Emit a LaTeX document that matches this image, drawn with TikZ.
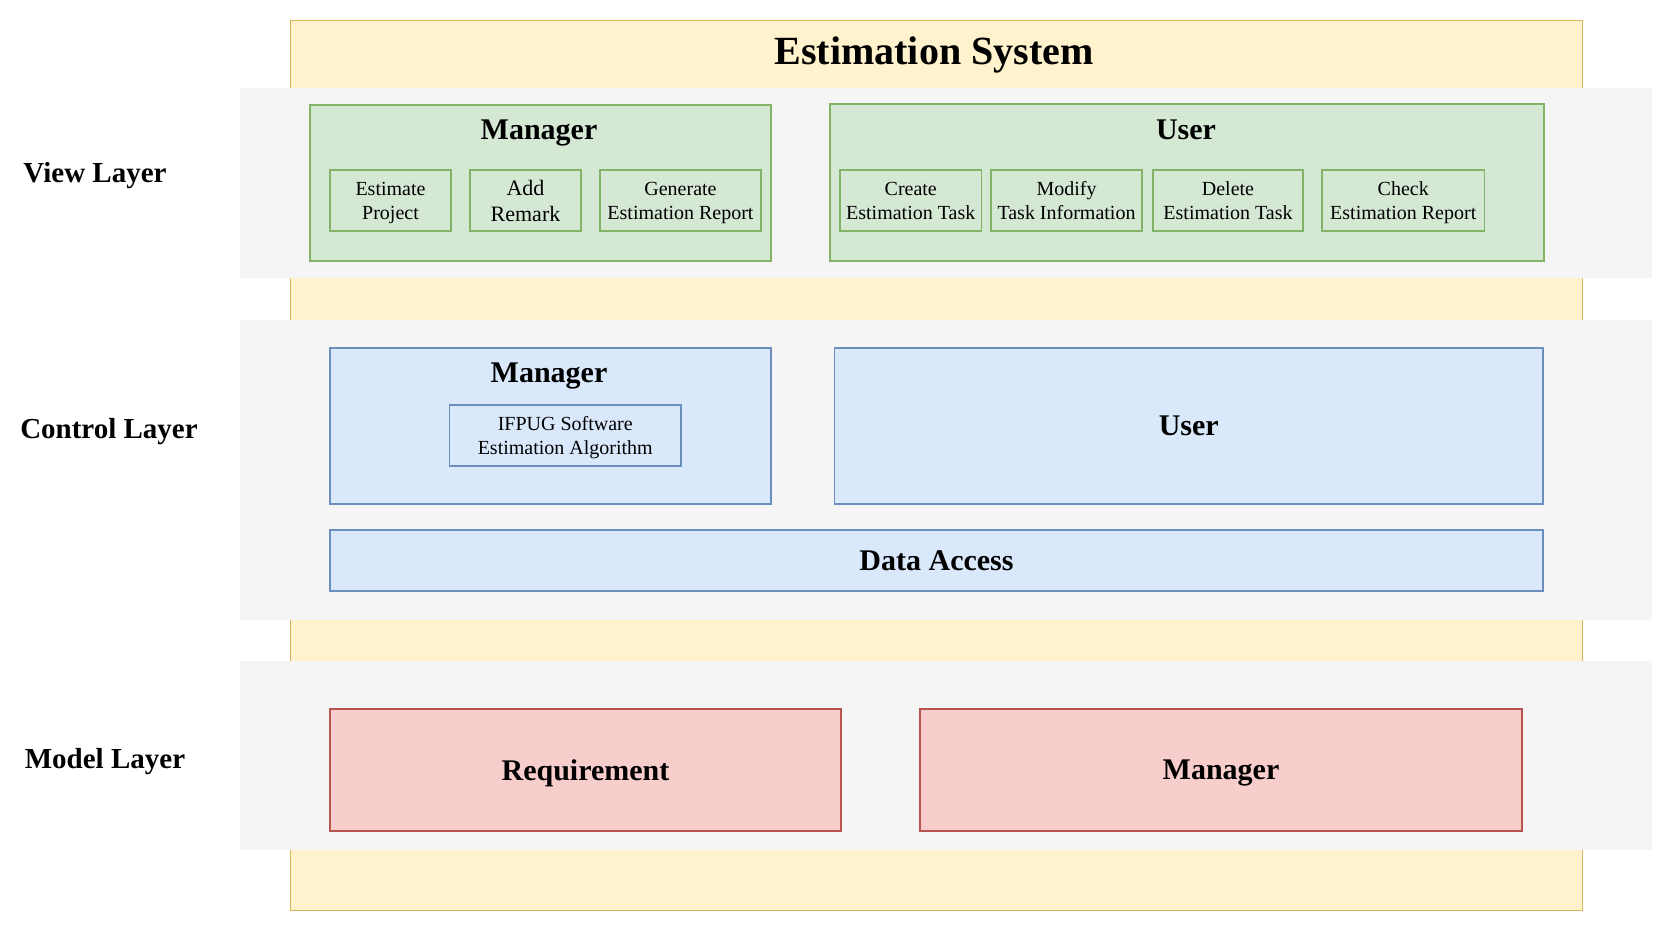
\documentclass[tikz,border=0pt]{standalone}
\usepackage{fontspec}
\setmainfont{Liberation Serif}

\definecolor{sysfill}{HTML}{FFF2CC}
\definecolor{sysline}{HTML}{D6B656}
\definecolor{bandgray}{HTML}{F5F5F5}
\definecolor{viewfill}{HTML}{D5E8D4}
\definecolor{viewline}{HTML}{82B366}
\definecolor{ctrlfill}{HTML}{DAE8FC}
\definecolor{ctrlline}{HTML}{6C8EBF}
\definecolor{modelfill}{HTML}{F8CECC}
\definecolor{modelline}{HTML}{B85450}

\tikzset{
  every node/.style={text depth=0pt},
  viewbox/.style={fill=viewfill, draw=viewline, line width=1.5pt, inner sep=0pt},
  ctrlbox/.style={fill=ctrlfill, draw=ctrlline, line width=1.5pt, inner sep=0pt},
  modelbox/.style={fill=modelfill, draw=modelline, line width=1.5pt, inner sep=0pt},
  itemtext/.style={align=center, font=\fontsize{20}{24}\selectfont},
  boxtitle/.style={font=\bfseries\fontsize{30}{36}\selectfont},
  layerlabel/.style={font=\bfseries\fontsize{29}{35}\selectfont}
}

\begin{document}
\begin{tikzpicture}[x=1pt, y=-1pt]

  \useasboundingbox (0,0) rectangle (1671,932);

  % System frame
  \draw[fill=sysfill, draw=sysline, line width=1pt] (290,20) rectangle (1582,910);
  \node[font=\bfseries\fontsize{40}{48}\selectfont] (systitle) at (934,51) {Estimation System};

  % Layer bands
  \fill[bandgray] (240,88) rectangle (1652,278);
  \fill[bandgray] (240,320) rectangle (1652,620);
  \fill[bandgray] (240,661) rectangle (1652,850);

  % Layer labels
  \node[layerlabel] (viewlabel) at (95,172) {View Layer};
  \node[layerlabel] (ctrllabel) at (109,428) {Control Layer};
  \node[layerlabel] (modellabel) at (105,758) {Model Layer};

  % View layer
  \node[viewbox, minimum width=461, minimum height=156] (vmanager) at (540.5,183) {};
  \node[boxtitle] (vmanagertitle) at (539,130) {Manager};
  \node[viewbox, itemtext, minimum width=121, minimum height=61] (estimate) at (390.5,200.5) {Estimate\\Project};
  \node[viewbox, align=center, font=\fontsize{22}{26}\selectfont, minimum width=111, minimum height=61] (remark) at (525.5,200.5) {Add\\Remark};
  \node[viewbox, itemtext, minimum width=161, minimum height=61] (genreport) at (680.5,200.5) {Generate\\Estimation Report};

  \node[viewbox, minimum width=714, minimum height=157] (vuser) at (1187,182.5) {};
  \node[boxtitle] (vusertitle) at (1186,130) {User};
  \node[viewbox, itemtext, minimum width=141.5, minimum height=61] (create) at (910.75,200.5) {Create\\Estimation Task};
  \node[viewbox, itemtext, minimum width=151, minimum height=61] (modify) at (1066.5,200.5) {Modify\\Task Information};
  \node[viewbox, itemtext, minimum width=150, minimum height=61] (delete) at (1228,200.5) {Delete\\Estimation Task};
  \node[viewbox, itemtext, minimum width=162.5, minimum height=61] (check) at (1403.25,200.5) {Check\\Estimation Report};

  % Control layer
  \node[ctrlbox, minimum width=441, minimum height=156] (cmanager) at (550.5,426) {};
  \node[boxtitle] (cmanagertitle) at (549,373) {Manager};
  \node[ctrlbox, itemtext, minimum width=231.5, minimum height=61] (ifpug) at (565.25,435.5) {IFPUG Software\\Estimation Algorithm};
  \node[ctrlbox, boxtitle, minimum width=708.5, minimum height=156] (cuser) at (1188.75,426) {User};
  \node[ctrlbox, boxtitle, minimum width=1213, minimum height=61] (dataaccess) at (936.5,560.5) {Data Access};

  % Model layer
  \node[modelbox, boxtitle, minimum width=511, minimum height=122] (requirement) at (585.5,770) {Requirement};
  \node[modelbox, boxtitle, minimum width=602, minimum height=122] (mmanager) at (1221,770) {Manager};

\end{tikzpicture}
\end{document}
